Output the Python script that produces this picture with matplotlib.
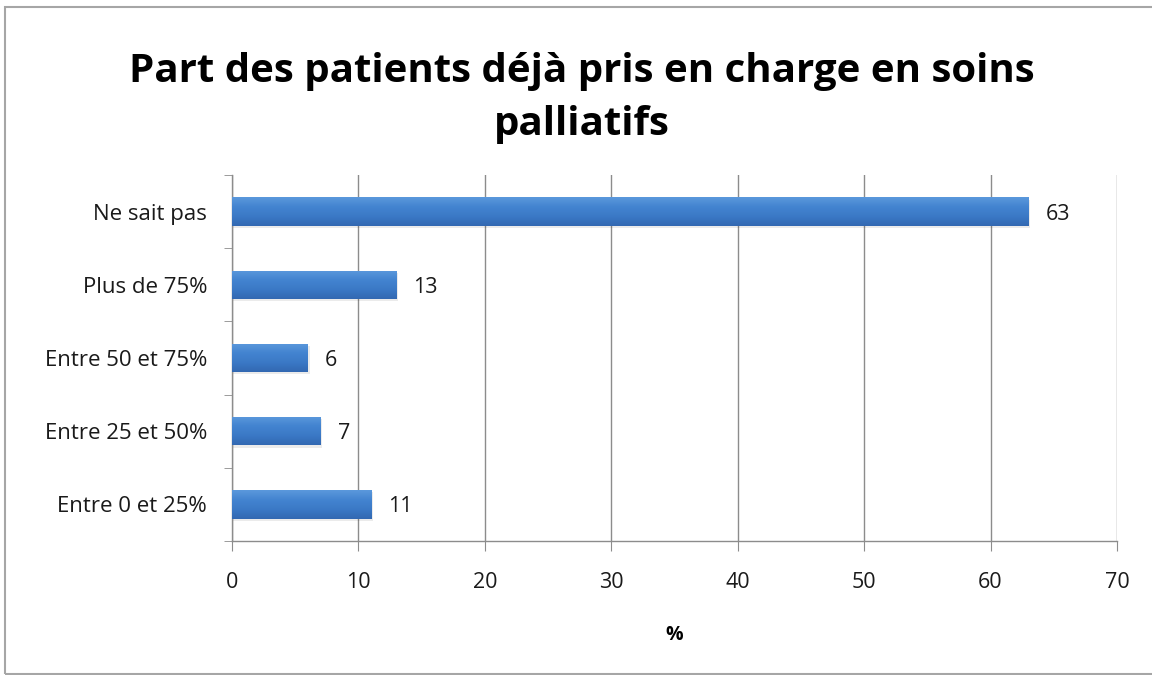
import matplotlib
matplotlib.use("Agg")
import matplotlib.pyplot as plt
import numpy as np
from matplotlib.patches import Rectangle
from matplotlib.colors import LinearSegmentedColormap

categories = ["Entre 0 et 25%", "Entre 25 et 50%", "Entre 50 et 75%", "Plus de 75%", "Ne sait pas"]
values = [11, 7, 6, 13, 63]
xticks = [0, 10, 20, 30, 40, 50, 60, 70]
title = "Part des patients déjà pris en charge en soins\npalliatifs"
xlabel = "%"

plt.rcParams['font.family'] = ['Open Sans', 'DejaVu Sans']

fig = plt.figure(figsize=(11.52, 6.75), dpi=100)
fig.patches.append(Rectangle((0.0045, 0.002), 1.2, 0.988, transform=fig.transFigure,
                             fill=False, edgecolor='#a6a6a6', linewidth=1.5))
ax = fig.add_axes([0.2014, 0.1985, 0.7682, 0.5422])

y = list(range(len(categories)))
bar_h = 0.39
bars = ax.barh(y, values, height=bar_h, color='#3d7cc9', edgecolor='none', linewidth=0, zorder=3)

# gradient fill + soft shadow for each bar
cmap = LinearSegmentedColormap.from_list('barg', ['#3268b2', '#3b79c6', '#4384d0', '#5b98dc'])
grad = np.linspace(0, 1, 64).reshape(-1, 1)
for b in bars:
    x0, y0, w, h = b.get_x(), b.get_y(), b.get_width(), b.get_height()
    ax.add_patch(Rectangle((x0, y0 - 0.03), w + 0.15, h, facecolor='#000000', alpha=0.08,
                           edgecolor='none', zorder=2.5))
    im = ax.imshow(grad, extent=[x0, x0 + w, y0, y0 + h], origin='lower', aspect='auto',
                   cmap=cmap, zorder=3.5, interpolation='bicubic')
    im.set_clip_path(b)

for yi, v in zip(y, values):
    ax.text(v + 1.35, yi, str(v), va='center_baseline', ha='left', fontsize=15.5, color='#1a1a1a')

ax.set_xlim(0, 70)
ax.set_ylim(-0.5, len(categories) - 0.5)
ax.set_xticks(xticks)
ax.set_xticklabels([str(t) for t in xticks], fontsize=15.5, color='#1a1a1a')
ax.set_yticks(y)
ax.set_yticklabels(categories, fontsize=16, color='#1a1a1a')
ax.tick_params(axis='y', length=0, pad=18)
ax.set_yticks([i - 0.5 for i in range(len(categories) + 1)], minor=True)
ax.tick_params(axis='y', which='minor', length=6, color='#8c8c8c', direction='out')
ax.tick_params(axis='x', length=7, color='#8c8c8c', direction='out', pad=15)
ax.grid(axis='x', color='#8c8c8c', linewidth=1.0, zorder=0)
ax.set_axisbelow(True)
for s in ['top', 'right']:
    ax.spines[s].set_visible(False)
for s in ['left', 'bottom']:
    ax.spines[s].set_color('#8c8c8c')
    ax.spines[s].set_linewidth(1.0)
ax.set_xlabel(xlabel, fontsize=14, fontweight='bold', labelpad=23)

fig.text(0.505, 0.855, title, ha='center', va='center', fontsize=29, fontweight='bold',
         linespacing=1.49, color='black')

fig.savefig("out.png", dpi=100)
